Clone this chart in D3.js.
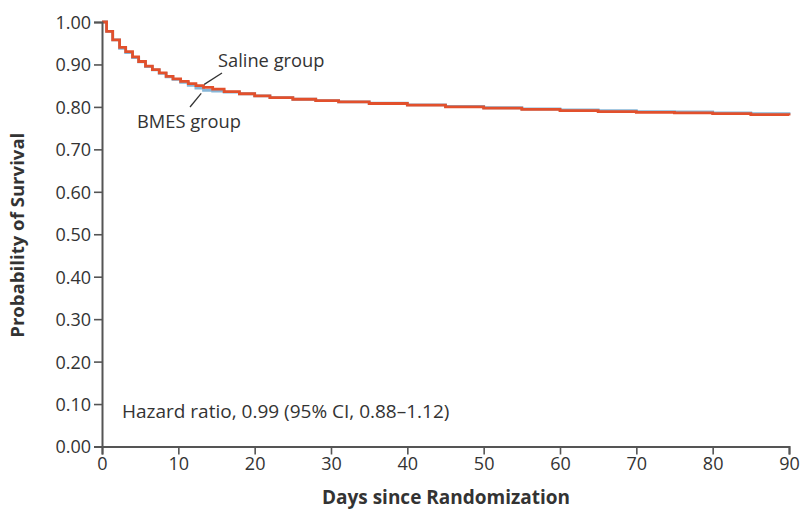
<!DOCTYPE html>
<html>
<head>
<meta charset="utf-8">
<script src="https://cdn.jsdelivr.net/npm/d3@7"></script>
<style>
  html, body { margin: 0; padding: 0; background: #fff; }
  svg { display: block; font-family: "Open Sans", "DejaVu Sans", sans-serif; }
</style>
</head>
<body>
<svg id="chart" width="802" height="516"></svg>
<script>
// Kaplan-Meier survival estimates
const days = [0, 0.6, 1.4, 2.3, 3.1, 4, 4.8, 5.7, 6.6, 7.5, 8.4, 9.3, 10.3, 11.3, 12.3, 13.3, 14.5,
  16, 18, 20, 22, 25, 28, 31, 35, 40, 45, 50, 55, 60, 65, 70, 75, 80, 85, 90];
const salineSurvival = [1.000, 0.978, 0.958, 0.940, 0.930, 0.918, 0.907, 0.896, 0.888, 0.880, 0.872, 0.866, 0.860, 0.855, 0.850, 0.846, 0.842,
  0.836, 0.831, 0.826, 0.822, 0.818, 0.815, 0.812, 0.808, 0.804, 0.800, 0.797, 0.794, 0.791, 0.789, 0.787, 0.786, 0.784, 0.782, 0.780];
const bmesSurvival = [1.000, 0.978, 0.958, 0.938, 0.928, 0.916, 0.906, 0.895, 0.887, 0.879, 0.871, 0.865, 0.858, 0.851, 0.844, 0.839, 0.837,
  0.835, 0.831, 0.826, 0.822, 0.818, 0.815, 0.812, 0.809, 0.805, 0.801, 0.798, 0.795, 0.793, 0.791, 0.789, 0.788, 0.786, 0.784, 0.782];
const xTicks = [0, 10, 20, 30, 40, 50, 60, 70, 80, 90];
const yTicks = [0, 0.1, 0.2, 0.3, 0.4, 0.5, 0.6, 0.7, 0.8, 0.9, 1.0];

const AXIS_COLOR = '#555';
const TEXT_COLOR = '#333';
const SALINE_COLOR = '#e2502c';
const BMES_COLOR = '#86b6d8';

const svg = d3.select('#chart');
const x = d3.scaleLinear().domain([0, 90]).range([102, 789]);
const y = d3.scaleLinear().domain([0, 1]).range([446.5, 22]);

// curves, BMES underneath
const line = d3.line().curve(d3.curveStepAfter).x((d) => x(d[0])).y((d) => y(d[1]));
const series = [
  { name: 'BMES', values: bmesSurvival, color: BMES_COLOR },
  { name: 'Saline', values: salineSurvival, color: SALINE_COLOR }
];
svg.selectAll('path.km').data(series).enter()
  .append('path').attr('class', 'km')
  .attr('d', (s) => line(days.map((d, i) => [d, s.values[i]])))
  .attr('fill', 'none').attr('stroke', (s) => s.color).attr('stroke-width', 2.8);

// axes
const yAxis = svg.append('g').attr('transform', `translate(${x(0)},0)`)
  .call(d3.axisLeft(y).tickValues(yTicks).tickFormat(d3.format('.2f')).tickSize(8).tickPadding(3));
const xAxis = svg.append('g').attr('transform', `translate(0,${y(0)})`)
  .call(d3.axisBottom(x).tickValues(xTicks).tickSize(8).tickPadding(3));
[xAxis, yAxis].forEach((g) => {
  g.select('.domain').attr('stroke', AXIS_COLOR).attr('stroke-width', 2);
  g.selectAll('.tick line').attr('stroke', AXIS_COLOR).attr('stroke-width', 1.6);
  g.selectAll('.tick text').attr('fill', TEXT_COLOR).attr('font-size', 18)
    .attr('font-family', '"Open Sans", sans-serif');
});
yAxis.selectAll('.tick text').attr('dy', '0.36em');

// axis titles
svg.append('text').attr('x', 446).attr('y', 504)
  .attr('text-anchor', 'middle').attr('font-size', 19).attr('font-weight', 'bold')
  .attr('fill', TEXT_COLOR).text('Days since Randomization');
svg.append('text').attr('transform', `translate(24,${y(0.5) + 1}) rotate(-90)`)
  .attr('text-anchor', 'middle').attr('font-size', 18.6).attr('font-weight', 'bold')
  .attr('fill', TEXT_COLOR).text('Probability of Survival');

// group labels with leader lines
svg.append('text').attr('x', 218).attr('y', 67).attr('font-size', 18.3)
  .attr('fill', TEXT_COLOR).text('Saline group');
svg.append('text').attr('x', 137).attr('y', 128).attr('font-size', 18.3)
  .attr('fill', TEXT_COLOR).text('BMES group');
svg.append('line').attr('x1', 222).attr('y1', 73).attr('x2', x(13.4)).attr('y2', y(0.846) - 3)
  .attr('stroke', TEXT_COLOR).attr('stroke-width', 1.3);
svg.append('line').attr('x1', x(13.0)).attr('y1', y(0.839) + 3).attr('x2', 190).attr('y2', 107)
  .attr('stroke', TEXT_COLOR).attr('stroke-width', 1.3);

svg.append('text').attr('x', 122).attr('y', 418).attr('font-size', 19)
  .attr('fill', TEXT_COLOR).text('Hazard ratio, 0.99 (95% CI, 0.88\u20131.12)');
</script>
</body>
</html>
